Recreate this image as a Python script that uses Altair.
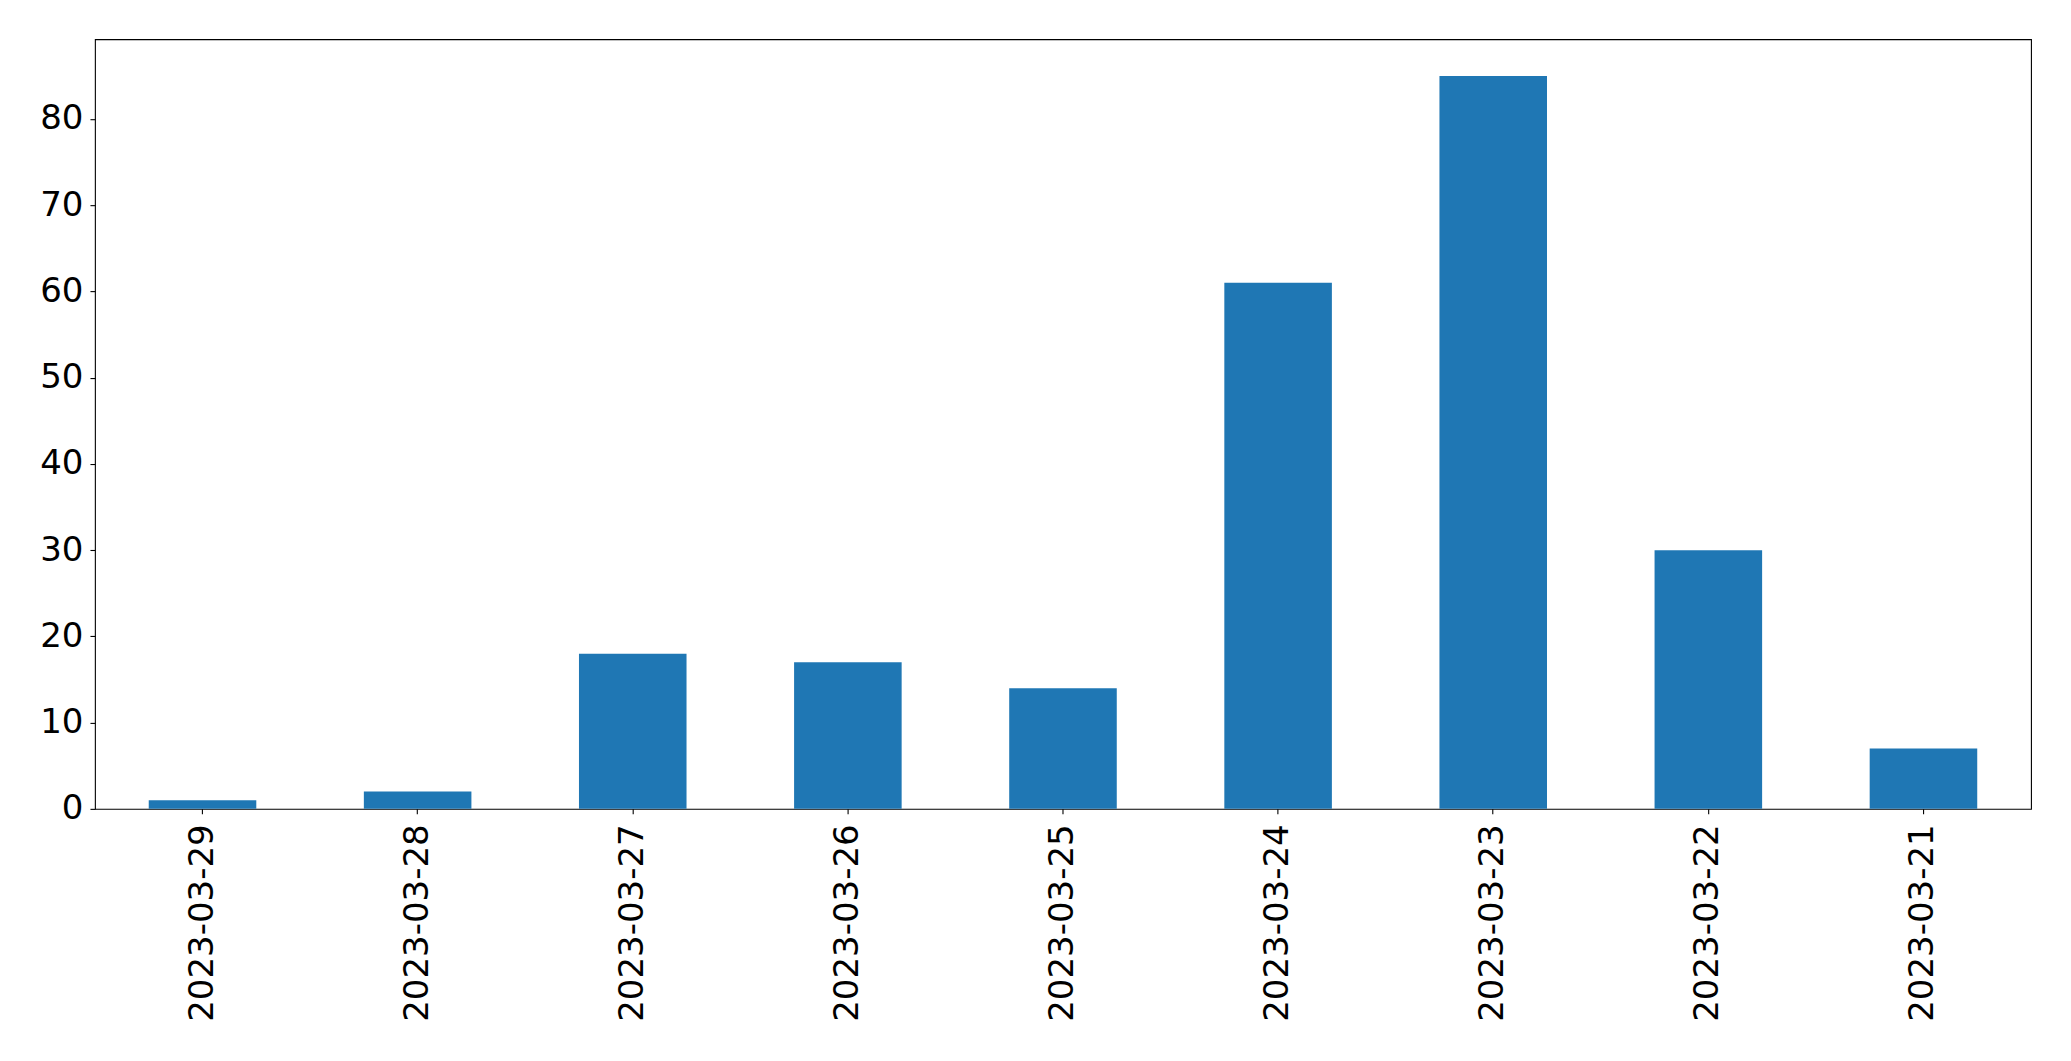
import altair as alt
import pandas as pd

dates = ["2023-03-29", "2023-03-28", "2023-03-27", "2023-03-26", "2023-03-25",
         "2023-03-24", "2023-03-23", "2023-03-22", "2023-03-21"]
counts = [1, 2, 18, 17, 14, 61, 85, 30, 7]
y_ticks = [0, 10, 20, 30, 40, 50, 60, 70, 80]

df = pd.DataFrame({"date": dates, "count": counts})

chart = alt.Chart(df).mark_bar(color="#1f77b4").encode(
    x=alt.X("date:N", sort=dates,
            scale=alt.Scale(paddingInner=0.5, paddingOuter=0.25),
            axis=alt.Axis(title=None, labelAngle=-90, labelFont="DejaVu Sans",
                          labelFontSize=34, labelColor="black", tickColor="black",
                          tickSize=5, tickWidth=1.1, labelPadding=10, domain=False,
                          labelAlign="right", labelBaseline="middle", labelLimit=0)),
    y=alt.Y("count:Q", scale=alt.Scale(domain=[0, 89.25], nice=False, zero=True),
            axis=alt.Axis(title=None, values=y_ticks, grid=False, labelFont="DejaVu Sans",
                          labelFontSize=34, labelColor="black", tickColor="black",
                          tickSize=5, tickWidth=1.1, labelPadding=7, domain=False)),
).properties(
    width=1937, height=770,
    autosize=alt.AutoSizeParams(type="none"),
    padding={"left": 87, "top": 31, "right": 32, "bottom": 240},
).configure_view(
    stroke="black", strokeWidth=1.1
)

chart.save("out.html", embed_options={"renderer": "svg", "actions": False})
